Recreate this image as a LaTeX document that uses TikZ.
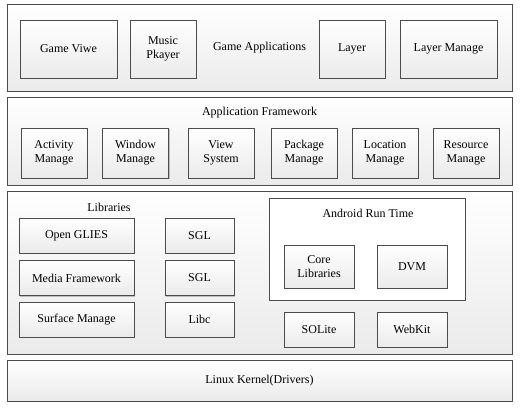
\documentclass[tikz,border=0pt]{standalone}
\usepackage{fontspec}
\setmainfont{Liberation Serif}
\usepackage{tikz}
\usetikzlibrary{positioning, shadows}

\begin{document}
\begin{tikzpicture}[
  x=1pt, y=-1pt,
  font=\fontsize{12}{14}\selectfont,
  layer/.style={rectangle, draw=gray!60!black, line width=0.7pt, top color=white, bottom color=gray!16,
    drop shadow={shadow xshift=1.2pt, shadow yshift=-1.2pt, opacity=0.45, fill=gray},
    minimum width=505pt, inner sep=0pt},
  unit/.style={rectangle, draw=gray!60!black, line width=0.7pt, top color=white, bottom color=gray!16,
    drop shadow={shadow xshift=1.2pt, shadow yshift=-1.2pt, opacity=0.45, fill=gray},
    align=center, inner sep=0pt},
  group/.style={rectangle, draw=gray!60!black, line width=0.6pt, fill=white, inner sep=0pt},
  title/.style={inner sep=1pt}
]
\useasboundingbox (0,0) rectangle (527,408);

% --- Game Applications ---
\node[layer, minimum height=87pt] (apps) at (259.5, 47.5) {Game Applications};
\node[unit, minimum width=97pt, minimum height=58pt] (gview) at (68.5, 49) {Game Viwe};
\node[unit, minimum width=66pt, minimum height=58pt] (music) at (163, 49) {Music\\Pkayer};
\node[unit, minimum width=66pt, minimum height=58pt] (lay) at (352, 49) {Layer};
\node[unit, minimum width=97pt, minimum height=58pt] (laym) at (448.5, 49) {Layer Manage};

% --- Application Framework ---
\node[layer, minimum height=88pt] (frame) at (259.5, 141) {};
\node[title] (frameT) at (259.5, 113) {Application Framework};
\node[unit, minimum width=66pt, minimum height=50pt] (activity) at (54, 153) {Activity\\Manage};
\node[unit, minimum width=66pt, minimum height=50pt] (window) at (135.5, 153) {Window\\Manage};
\node[unit, minimum width=66pt, minimum height=50pt] (view) at (221, 153) {View\\System};
\node[unit, minimum width=66pt, minimum height=50pt] (package) at (304, 153) {Package\\Manage};
\node[unit, minimum width=66pt, minimum height=50pt] (location) at (385, 153) {Location\\Manage};
\node[unit, minimum width=66pt, minimum height=50pt] (resource) at (466, 153) {Resource\\Manage};

% --- Libraries ---
\node[layer, minimum height=163pt] (libs) at (259.5, 272.5) {};
\node[title] (libsT) at (109, 207) {Libraries};
\node[unit, minimum width=115pt, minimum height=35pt] (opengl) at (76.5, 235.5) {Open GLIES};
\node[unit, minimum width=115pt, minimum height=35pt] (media) at (76.5, 278) {Media Framework};
\node[unit, minimum width=115pt, minimum height=35pt] (surface) at (76.5, 319.5) {Surface Manage};
\node[unit, minimum width=69pt, minimum height=35pt] (sgla) at (199.5, 235.5) {SGL};
\node[unit, minimum width=69pt, minimum height=35pt] (sglb) at (199.5, 278) {SGL};
\node[unit, minimum width=69pt, minimum height=35pt] (libc) at (199.5, 319.5) {Libc};

% Android Run Time
\node[group, minimum width=196pt, minimum height=102pt] (art) at (367, 249) {};
\node[title] (artT) at (368, 213) {Android Run Time};
\node[unit, minimum width=70pt, minimum height=43pt] (core) at (319, 266.5) {Core\\Libraries};
\node[unit, minimum width=70pt, minimum height=43pt] (dvm) at (412, 266.5) {DVM};
\node[unit, minimum width=70pt, minimum height=35pt] (sqlite) at (319, 329.5) {SOLite};
\node[unit, minimum width=70pt, minimum height=35pt] (webkit) at (412, 329.5) {WebKit};

% --- Linux Kernel ---
\node[layer, minimum height=41pt] (kernel) at (259.5, 380.5) {Linux Kernel(Drivers)};
\end{tikzpicture}
\end{document}
